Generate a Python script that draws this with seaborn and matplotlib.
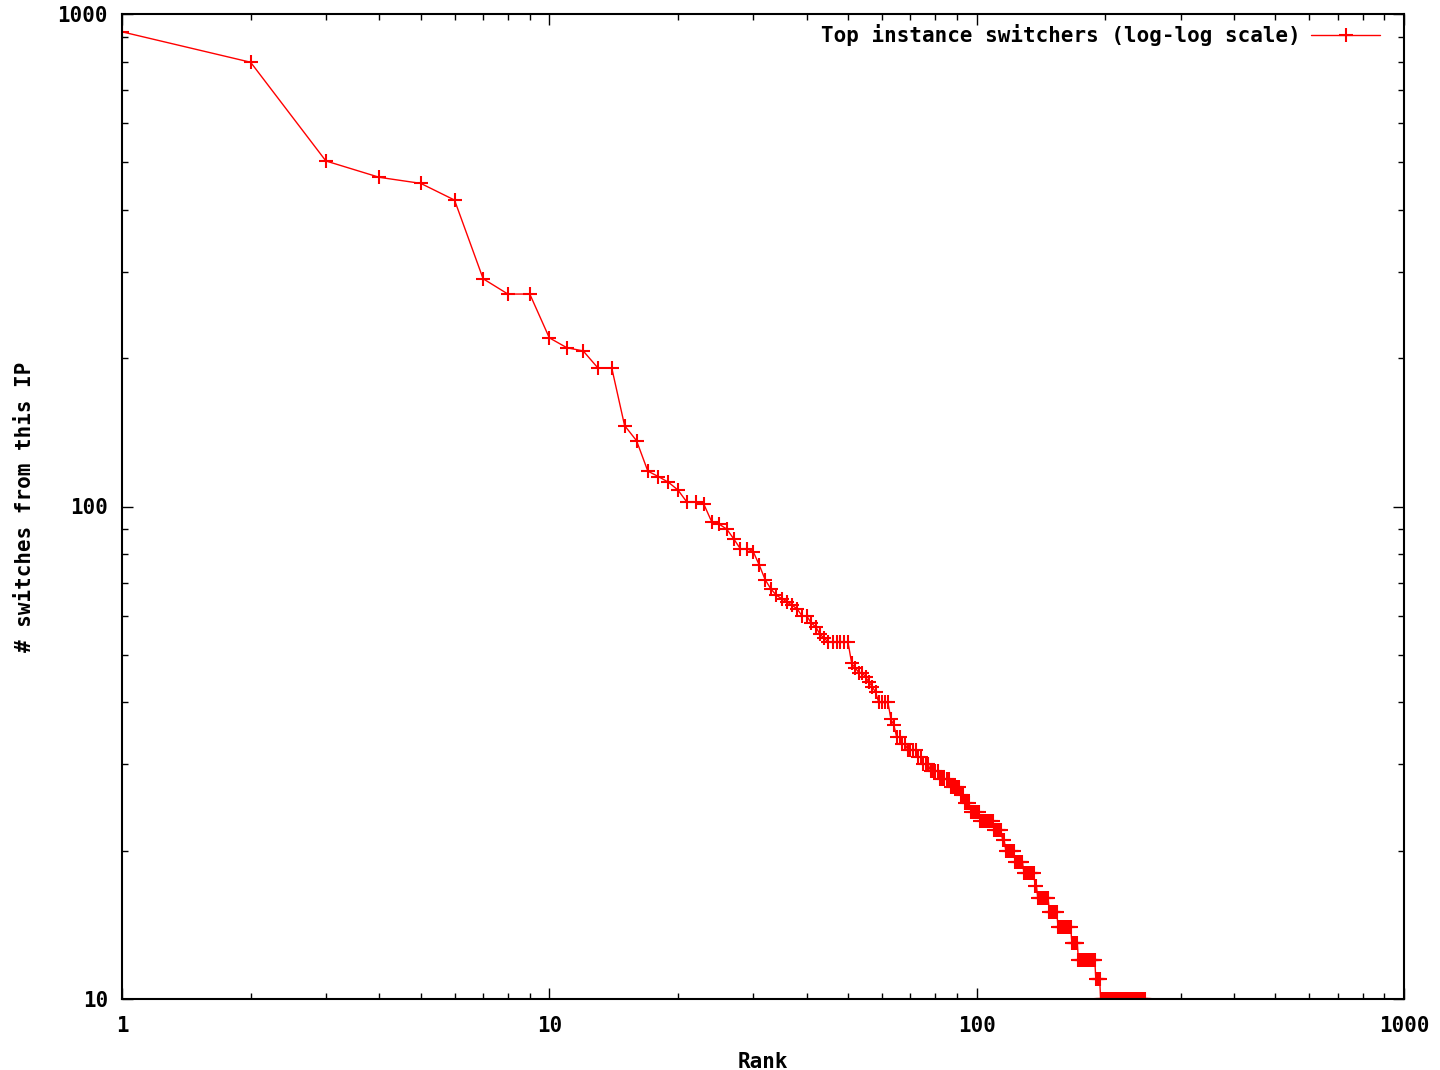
import numpy as np
import pandas as pd
import matplotlib
matplotlib.use('Agg')
import matplotlib.pyplot as plt
import seaborn as sns
from matplotlib.ticker import NullFormatter, LogLocator

levels = [920, 798, 503, 466, 453, 419, 290, 270, 220, 210, 207, 191, 146, 136,
          118, 115, 112, 108, 102, 101, 93, 92, 90, 86, 82, 81, 76, 71, 68, 66,
          65, 64, 63, 62, 60, 58, 57, 55, 54, 53, 48, 47, 46, 45, 44, 43, 42, 40,
          37, 36, 34, 33, 32, 31, 30, 29, 28, 27, 26, 25, 24, 23, 22, 21, 20, 19,
          18, 17, 16, 15, 14, 13, 12, 11, 10]
n_ranks = [1, 1, 1, 1, 1, 1, 1, 2, 1, 1, 1, 2, 1, 1,
           1, 1, 1, 1, 2, 1, 1, 1, 1, 1, 2, 1, 1, 1, 1, 1,
           1, 1, 1, 1, 2, 1, 1, 1, 1, 6, 1, 1, 2, 1, 1, 1, 1, 4,
           1, 1, 2, 2, 4, 2, 3, 4, 5, 5, 2, 3, 5, 8, 5, 2, 6, 6,
           8, 2, 9, 7, 12, 6, 17, 5, 54]

x_ticks = [1, 10, 100, 1000]
y_ticks = [10, 100, 1000]
series_name = 'Top instance switchers (log-log scale)'

switches = np.repeat(levels, n_ranks)
rank = np.arange(1, len(switches) + 1)
df = pd.DataFrame({'rank': rank, 'switches': switches})

sns.set_style('ticks')
plt.rcParams['font.family'] = ['DejaVu Sans Mono']
plt.rcParams['font.weight'] = 'bold'
plt.rcParams['font.size'] = 15
plt.rcParams['text.color'] = 'black'
plt.rcParams['axes.labelcolor'] = 'black'

fig = plt.figure(figsize=(14.4, 10.7), dpi=100)
ax = fig.add_axes([122 / 1440, 71 / 1070, 1282 / 1440, 985 / 1070])

sns.lineplot(data=df, x='rank', y='switches', ax=ax, color='red', lw=1,
             marker='+', markersize=10, markeredgewidth=1.5,
             markeredgecolor='red', label=series_name)

ax.set_xscale('log')
ax.set_yscale('log')
ax.set_xlim(1, 1000)
ax.set_ylim(10, 1000)
ax.set_xticks(x_ticks)
ax.set_xticklabels([str(t) for t in x_ticks])
ax.set_yticks(y_ticks)
ax.set_yticklabels([str(t) for t in y_ticks])
ax.xaxis.set_minor_locator(LogLocator(base=10, subs=range(2, 10)))
ax.yaxis.set_minor_locator(LogLocator(base=10, subs=range(2, 10)))
ax.xaxis.set_minor_formatter(NullFormatter())
ax.yaxis.set_minor_formatter(NullFormatter())

ax.tick_params(which='both', direction='in', top=True, right=True,
               colors='black', labelcolor='black', width=1)
ax.tick_params(which='major', length=8, labelsize=15)
ax.tick_params(axis='x', which='major', pad=12)
ax.tick_params(axis='y', which='major', pad=10)
ax.tick_params(which='minor', length=4)
for s in ax.spines.values():
    s.set_linewidth(1.5)
    s.set_color('black')

ax.set_xlabel('Rank', fontsize=15, fontweight='bold', labelpad=12, color='black')
ax.set_ylabel('# switches from this IP', fontsize=15, fontweight='bold',
              labelpad=16, color='black')

leg = ax.legend(loc='upper right', bbox_to_anchor=(1 - 24 / 1282, 1 - 10 / 985),
                frameon=False, markerfirst=False, borderpad=0, borderaxespad=0,
                handlelength=3.3, handletextpad=0.5, fontsize=15)
for t in leg.get_texts():
    t.set_color('black')

fig.savefig('out.png', dpi=100, facecolor='white')
